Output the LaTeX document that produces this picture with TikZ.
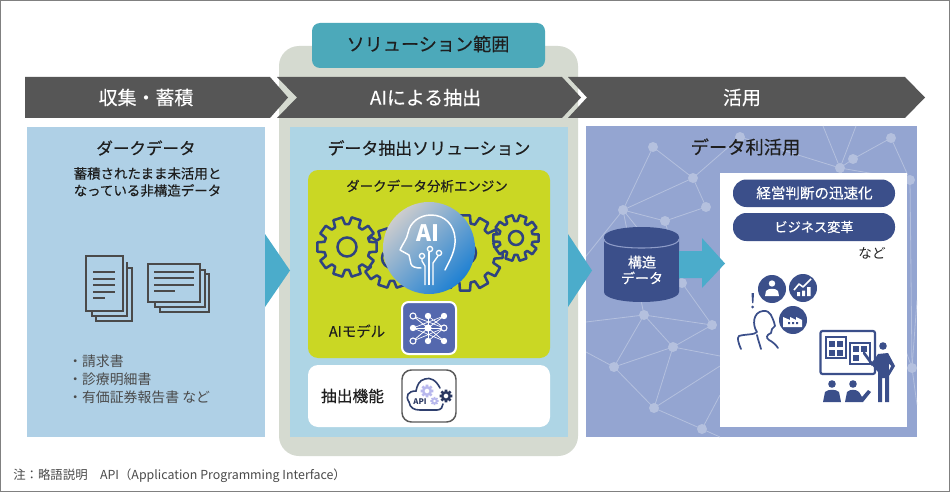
\documentclass[tikz,border=0pt]{standalone}
\usepackage{fontspec}
\setmainfont{Noto Sans CJK JP}
\newfontfamily\jpm[FakeBold=0.35]{Noto Sans CJK JP}
\usetikzlibrary{calc}
\definecolor{band}{HTML}{565656}
\definecolor{panelg}{HTML}{D5DAD0}
\definecolor{teal1}{HTML}{4CA9BA}
\definecolor{lblue}{HTML}{AFD0E6}
\definecolor{mblue}{HTML}{AED5E5}
\definecolor{nblue}{HTML}{94A5D1}
\definecolor{netc}{HTML}{B4C0DE}
\definecolor{lime}{HTML}{CAD724}
\definecolor{arrowb}{HTML}{4BACCB}
\definecolor{navy}{HTML}{3B4F8A}
\definecolor{gearc}{HTML}{2F4380}
\definecolor{docc}{HTML}{4A4A4A}
\definecolor{modelb}{HTML}{5468AE}
\definecolor{inkc}{HTML}{1E1E1E}
\definecolor{aig}{HTML}{CCCCCE}
\definecolor{aib}{HTML}{1E80D2}
\definecolor{dbl}{HTML}{8E9CC8}
\newcommand{\fs}[1]{\fontsize{#1}{#1}\selectfont}
\newcommand{\mygear}[6]{% cx cy R r teeth hole
  \draw[gearc,line width=1.9pt,line join=round,fill=lime]
    ({#1+#3*cos(0-90/#5)},{#2+#3*sin(0-90/#5)})
    \foreach \ti in {1,...,#5}{
      -- ({#1+#3*cos((\ti-1)*360/#5+90/#5)},{#2+#3*sin((\ti-1)*360/#5+90/#5)})
      -- ({#1+#4*cos((\ti-1)*360/#5+360/#5*0.36)},{#2+#4*sin((\ti-1)*360/#5+360/#5*0.36)})
      -- ({#1+#4*cos(\ti*360/#5-360/#5*0.36)},{#2+#4*sin(\ti*360/#5-360/#5*0.36)})
      -- ({#1+#3*cos(\ti*360/#5-90/#5)},{#2+#3*sin(\ti*360/#5-90/#5)})
    } -- cycle;
  \draw[gearc,line width=1.9pt] (#1,#2) circle[radius=#6];
}
\newcommand{\minigear}[5]{% cx cy R color teeth
  \fill[#4,even odd rule]
    ({#1+#3*cos(0-90/#5)},{#2+#3*sin(0-90/#5)})
    \foreach \ti in {1,...,#5}{
      -- ({#1+#3*cos((\ti-1)*360/#5+90/#5)},{#2+#3*sin((\ti-1)*360/#5+90/#5)})
      -- ({#1+0.72*#3*cos((\ti-1)*360/#5+360/#5*0.36)},{#2+0.72*#3*sin((\ti-1)*360/#5+360/#5*0.36)})
      -- ({#1+0.72*#3*cos(\ti*360/#5-360/#5*0.36)},{#2+0.72*#3*sin(\ti*360/#5-360/#5*0.36)})
      -- ({#1+#3*cos(\ti*360/#5-90/#5)},{#2+#3*sin(\ti*360/#5-90/#5)})
    } -- cycle (#1,#2) circle[radius=0.38*#3];
}
\tikzset{
  x=0.75pt,y=-0.75pt,
  lbl/.style={inner sep=0pt,align=center,text=inkc},
  bandtxt/.style={lbl,text=white,font=\jpm\fs{14.2pt}},
  head/.style={lbl},
  sub/.style={lbl,font=\jpm\fs{10.1pt}},
  netl/.style={draw=netc,line width=0.6pt},
  netn/.style={circle,fill=netc,inner sep=0pt,minimum size=7.5pt},
  docl/.style={docc,line width=1.6pt},
  iconl/.style={navy,line width=1.3pt,line cap=round,line join=round},
}
\begin{document}
\begin{tikzpicture}
\useasboundingbox (0,0) rectangle (950,492);
\fill[white] (0,0) rectangle (950,492);
\draw[gray,line width=0.9pt] (0.5,0.5) rectangle (949.5,491.5);
% solution range panel
\fill[panelg,rounded corners=15pt] (279,46) rectangle (578,456);
\fill[teal1,rounded corners=6pt] (312,23) rectangle (545,68);
\node[lbl,font=\jpm\fs{13.6pt}] (scope) at (428,44) {ソリューション範囲};
% band
\fill[band] (25,77) -- (270,77) -- (288,97.5) -- (270,118) -- (25,118) -- cycle;
\fill[band] (277,77) -- (562,77) -- (581,97.5) -- (562,118) -- (277,118) -- (297,97.5) -- cycle;
\fill[band] (568,77) -- (905,77) -- (925,97.5) -- (905,118) -- (568,118) -- (587,97.5) -- cycle;
\node[bandtxt] (b1) at (146,97.5) {収集・蓄積};
\node[bandtxt] (b2) at (425.5,97.5) {AIによる抽出};
\node[bandtxt] (b3) at (742,97.5) {活用};
% panels
\fill[lblue] (27,127) rectangle (265,437);
\fill[mblue] (290,127) rectangle (568,437);
\fill[nblue] (586,126) rectangle (917,437);
% network
\begin{scope}
\clip (586,126) rectangle (917,437);
\coordinate (n1) at (653,147);
\coordinate (n2) at (693,178);
\coordinate (n3) at (623,210);
\coordinate (n4) at (665,221);
\coordinate (n5) at (706,207);
\coordinate (n6) at (740,137);
\coordinate (n7) at (840,168);
\coordinate (n8) at (853,159);
\coordinate (n9) at (891,138);
\coordinate (n10) at (910,180);
\coordinate (n11) at (682,283);
\coordinate (n12) at (912,368);
\coordinate (n13) at (644,315);
\coordinate (n14) at (712,325);
\coordinate (n15) at (673,347);
\coordinate (n16) at (614,367);
\coordinate (n17) at (654,408);
\coordinate (n18) at (702,429);
\foreach \p/\q in {n1/n2,n1/n3,n2/n3,n2/n6,n3/n4,n4/n5,n5/n2,n6/n7,n7/n8,n8/n9,n9/n10,n7/n10,n3/n11,n4/n11,n13/n14,n13/n15,n14/n15,n13/n16,n16/n15,n15/n17,n16/n17,n17/n18,n7/n12,n10/n12,n11/n14,n3/n13}
  \draw[netl] (\p) -- (\q);
\draw[netl] (583,260) -- (n3);
\draw[netl] (n7) -- (823,126);
\draw[netl] (n7) -- (856,126);
\draw[netl] (n12) -- (917,300);
\draw[netl] (n12) -- (917,405);
\draw[netl] (586,322) -- (n13);
\draw[netl] (586,352) -- (n16);
\draw[netl] (n17) -- (720,366);
\draw[netl] (n15) -- (720,356);
\draw[netl] (n18) -- (720,395);
\draw[netl] (n18) -- (720,437);
\foreach \p in {n1,n2,n3,n4,n5,n6,n7,n8,n9,n10,n11,n12,n13,n14,n15,n16,n17,n18}
  \node[netn] (c\p) at (\p) {};
\end{scope}
% inner boxes
\fill[white] (720,173) rectangle (907,427);
\fill[lime,rounded corners=7.5pt] (308,170) rectangle (550,358);
\fill[white,rounded corners=7.5pt] (308,365) rectangle (550,427);
% triangles
\fill[arrowb] (265,234) -- (290,270.5) -- (265,307) -- cycle;
\fill[arrowb] (568,234) -- (592,270.5) -- (568,307) -- cycle;
% headings
\node[head,font=\jpm\fs{12.4pt}] (t1) at (146,148) {ダークデータ};
\node[sub] (t2) at (147.5,173.5) {蓄積されたまま未活用と};
\node[sub] (t3) at (147.5,190.5) {なっている非構造データ};
\node[head,font=\jpm\fs{12.7pt}] (t4) at (429,148) {データ抽出ソリューション};
\node[lbl,font=\jpm\fs{10.1pt}] (t5) at (427,186) {ダークデータ分析エンジン};
\node[head,font=\jpm\fs{13.7pt}] (t6) at (745.5,147) {データ利活用};
% documents left
\draw[docl] (92,262) -- (92,316) -- (127,316) -- (127,262);
\draw[docl] (96,316) -- (96,321) -- (132,321) -- (132,268) -- (127,268);
\draw[docl,fill=lblue] (86,256) rectangle (123,311);
\foreach \yy/\xe in {272/115,279/115,285/115,292/115,298/105}
  \draw[docl] (93,\yy) -- (\xe,\yy);
\draw[docl] (155,302) -- (155,307) -- (205,307) -- (205,270) -- (200,270);
\draw[docl] (160,307) -- (160,312) -- (209,312) -- (209,274) -- (205,274);
\draw[docl,fill=lblue] (148,264) rectangle (200,302);
\foreach \yy/\xe in {272/194,278/194,285/194,291/175}
  \draw[docl] (154,\yy) -- (\xe,\yy);
% list
\node[lbl,anchor=west,font=\fs{10.4pt},text=docc] (l1) at (68,361) {・請求書};
\node[lbl,anchor=west,font=\fs{10.4pt},text=docc] (l2) at (68,379) {・診療明細書};
\node[lbl,anchor=west,font=\fs{10.4pt},text=docc] (l3) at (68,397) {・有価証券報告書 など};
% gears
\mygear{392}{258}{30}{23}{10}{10}
\mygear{465}{253}{38}{30}{12}{11}
\mygear{347}{247}{30}{23}{10}{9.5}
\mygear{516}{238}{23}{17}{10}{7}
% AI circle
\shade[left color=aig,right color=aib,shading angle=45]
  (429,248) circle[radius=46];
\draw[white,line width=1.1pt,line cap=round,line join=round]
  (421,268) .. controls (416,268) and (412,267) .. (411,264)
  -- (409,255) -- (400,250)
  .. controls (403,243) and (407,239) .. (408,233)
  .. controls (410,222) and (420,215) .. (431,215)
  .. controls (445,215) and (454,225) .. (455,238)
  .. controls (456,250) and (450,260) .. (445,270);
\node[lbl,text=white,font=\bfseries\fs{17pt}] (ai) at (428,233) {AI};
\draw[white,line width=1pt] (429,285) -- (429,252);
\draw[white,line width=1pt] (425,285) -- (425,266) -- (422,261) -- (422,259);
\draw[white,line width=1pt] (433,285) -- (433,263) -- (438,256);
\draw[white,line width=1pt] (430,249) circle[radius=2.6];
\draw[white,line width=1pt] (422,256) circle[radius=2.6];
\draw[white,line width=1pt] (439,253) circle[radius=2.6];
% AI model
\node[lbl,font=\jpm\fs{10.8pt}] (aim) at (357,331) {AIモデル};
\fill[modelb,rounded corners=5pt] (402,302) rectangle (456,354);
\draw[white,line width=1.5pt,rounded corners=5pt] (402,302) rectangle (456,354);
\foreach \xx/\yy in {413/316,428/316,444/316,413/328,444/328,413/341,428/341,444/341}{
  \draw[white,line width=0.6pt] (428,328) -- (\xx,\yy);
}
\draw[white,line width=0.5pt] (413,316) -- (444,328) (413,341) -- (444,328) (444,316) -- (413,328) (444,341) -- (413,328) (428,316) -- (444,328) (428,341) -- (444,328);
\fill[white] (428,328) circle[radius=3.6];
\foreach \xx/\yy in {428/316,444/316,413/328,428/341,444/341}
  \fill[white] (\xx,\yy) circle[radius=3.2];
\foreach \xx/\yy in {413/316,444/328,413/341}
  \draw[white,line width=0.8pt,fill=modelb] (\xx,\yy) circle[radius=3];
% extraction function
\node[lbl,font=\jpm\fs{11.8pt}] (ext) at (352.5,396) {抽出機能};
\draw[gray!70!black,line width=1.1pt,rounded corners=7pt,fill=white] (402,370) rectangle (456,422);
\draw[navy!80!black,line width=1.2pt,line cap=round]
  (440,388) .. controls (436,380) and (430,377) .. (425,379)
  .. controls (419,380) and (417,386) .. (416,391)
  .. controls (408,391) and (405,396) .. (409,402)
  .. controls (410,408) and (414,410) .. (420,410) -- (437,410)
  .. controls (441,410) and (443,407) .. (443,404);
\minigear{427}{391}{6.5}{gray!40!blue!35!white}{8}
\minigear{434.5}{401}{4.2}{gray!40!blue!35!white}{8}
\minigear{446}{396}{6.5}{navy!70!black}{8}
\node[lbl,font=\bfseries\fs{5.8pt},text=navy!70!black] (api) at (420,402) {API};
% database
\fill[navy] (604,237) -- (604,292) .. controls (604,298) and (621,302) .. (641.5,302)
  .. controls (662,302) and (679,298) .. (679,292) -- (679,237)
  .. controls (679,231) and (662,227) .. (641.5,227)
  .. controls (621,227) and (604,231) .. (604,237) -- cycle;
\draw[dbl,line width=0.8pt] (604,239) .. controls (604,245) and (621,248) .. (641.5,248)
  .. controls (662,248) and (679,245) .. (679,239);
\node[lbl,text=white,font=\jpm\fs{10.5pt}] (db) at (642,270) {構造\\[1.5pt]データ};
% arrow
\fill[arrowb] (679,251) -- (702,251) -- (702,238) -- (725,263.5) -- (702,288) -- (702,278) -- (679,278) -- cycle;
% pills
\fill[navy,rounded corners=10pt] (733,179.5) rectangle (895,207);
\fill[navy,rounded corners=10pt] (733,213) rectangle (895,241);
\node[lbl,text=white,font=\jpm\fs{10.9pt}] (p1) at (814.5,193) {経営判断の迅速化};
\node[lbl,text=white,font=\jpm\fs{9.9pt}] (p2) at (814,227) {ビジネス変革};
\node[lbl,font=\fs{10.2pt}] (nado) at (872,253) {など};
% people icons
\fill[navy] (772,289) circle[radius=14];
\fill[navy] (803,288) circle[radius=14];
\fill[navy] (793,320) circle[radius=14];
\fill[white] (772,283.5) circle[radius=3.2];
\fill[white] (765,296) -- (766,291) .. controls (768,288) and (776,288) .. (778,291) -- (779,296) -- cycle;
\draw[white,line width=1.2pt,line join=round] (794,290) -- (799,284) -- (803,287) -- (811,279);
\fill[white] (797,292) rectangle (800,296) (802,290.5) rectangle (805,296) (807,287) rectangle (810.5,296);
\fill[white] (783,327) -- (783,317) -- (790,320) -- (790,317) -- (796,320) -- (796,317) -- (802,320) -- (802,327) -- cycle;
\fill[navy] (788,322) rectangle (790,324) (792,322) rectangle (794,324) (796,322) rectangle (798,324);
% thinking person
\fill[navy] (751.5,293) -- (754,293) -- (753.4,303) -- (752.1,303) -- cycle;
\fill[navy] (752.7,307) circle[radius=1.5];
\draw[iconl] (741,349) .. controls (738,342) and (737,338) .. (739,336) .. controls (745,334) and (755,335) .. (757,332)
  .. controls (752,325) and (753,312) .. (763,311) .. controls (771,310) and (772,318) .. (774,322)
  -- (775,326) -- (772,329) -- (771,333) .. controls (766,335) and (766,338) .. (769,340) .. controls (773,342) and (776,345) .. (778,348);
\draw[iconl] (757,335) .. controls (758,340) and (760,345) .. (761,349);
% presentation
\draw[navy,line width=1.6pt,rounded corners=1.5pt] (820.5,331) rectangle (875,374);
\draw[navy,line width=1.4pt,fill=white] (826,337) rectangle (846,358);
\foreach \xx/\yy in {829/341,837/341,829/350,837/350}
  \fill[navy] (\xx,\yy) rectangle ++(6,6);
\draw[navy,line width=1.4pt,fill=white] (850,343) rectangle (870,364);
\foreach \xx/\yy in {853/346,861/346,853/355}
  \fill[navy] (\xx,\yy) rectangle ++(6,6);
\fill[navy] (883,346) circle[radius=3.8];
\draw[navy,line width=2pt,line cap=round] (864,353) -- (872,364) -- (876,360);
\fill[navy] (878,354) -- (888,353) -- (895,366) -- (889,376) -- (889,402) -- (885,402) -- (885,378) -- (882,378) -- (882,402) -- (878,402) -- (878,372) -- (871,364) -- (874,360) -- cycle;
\fill[white] (889,364) -- (891,366) -- (889,370) -- cycle;
\fill[navy] (832,384) circle[radius=3.8];
\fill[navy] (823,402) -- (825,392) .. controls (828,389) and (836,389) .. (839,392) -- (841,402) -- cycle;
\fill[navy] (853,384) circle[radius=3.8];
\fill[navy] (845,402) -- (847,392) .. controls (850,389) and (856,389) .. (859,392) -- (862,397) -- (868,390) -- (871,392) -- (863,402) -- cycle;
% footnote
\node[lbl,anchor=west,font=\fs{9.3pt},text=docc] (foot) at (13,476) {注：略語説明　API（Application Programming Interface）};
\end{tikzpicture}
\end{document}
